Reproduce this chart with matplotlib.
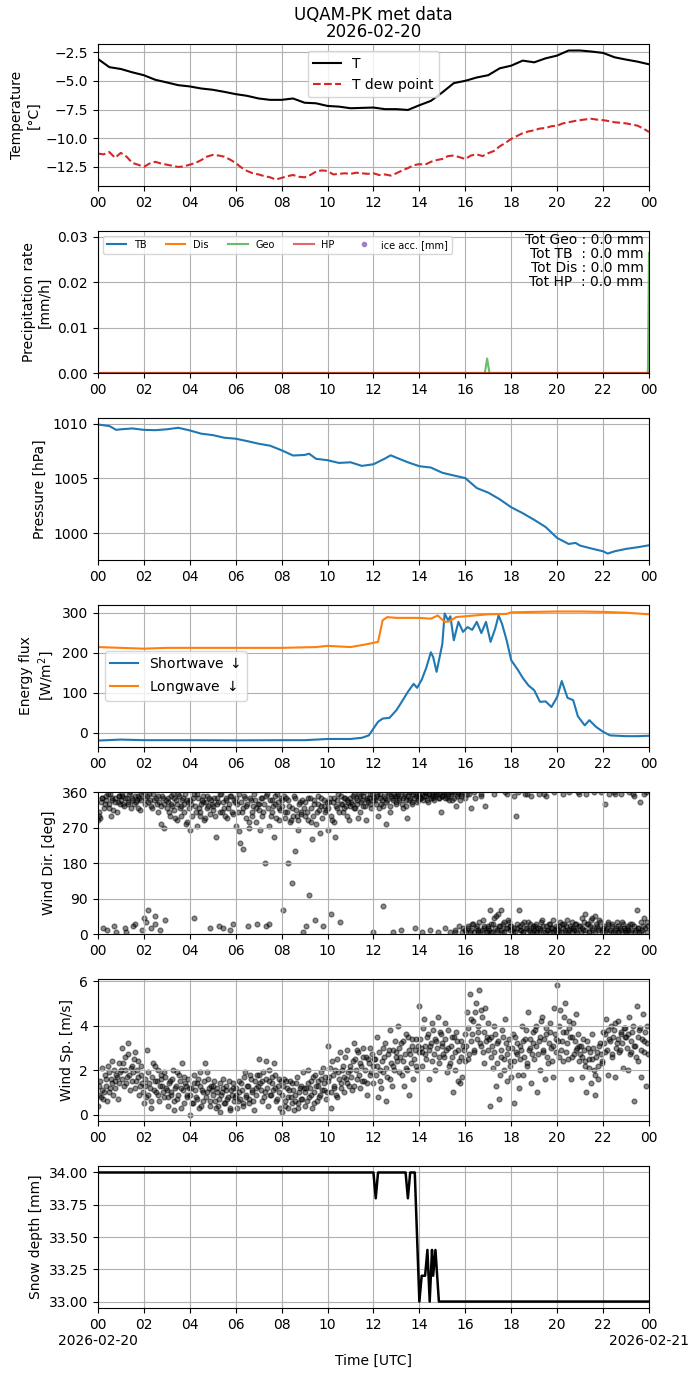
import numpy as np
import pandas as pd
import matplotlib
matplotlib.use("Agg")
import matplotlib.pyplot as plt
import matplotlib.dates as mdates
from matplotlib.ticker import FuncFormatter

DAY = pd.Timestamp("2026-02-20")

# ---------------- data ----------------
temp_hours = [i * 0.5 for i in range(49)]
temp_T = [-3.08, -3.8, -3.96, -4.25, -4.5, -4.9, -5.13, -5.37, -5.48, -5.66,
          -5.77, -5.95, -6.15, -6.3, -6.53, -6.65, -6.65, -6.53, -6.9, -6.95,
          -7.18, -7.24, -7.38, -7.35, -7.32, -7.46, -7.46, -7.53, -7.12, -6.74,
          -6.0, -5.19, -4.99, -4.7, -4.5, -3.9, -3.67, -3.23, -3.38, -3.03,
          -2.79, -2.35, -2.35, -2.44, -2.56, -2.94, -3.14, -3.32, -3.55]

dew_hours = [i * 0.25 for i in range(97)]
dew_T = [-11.33, -11.4, -11.2, -11.7, -11.27, -11.6, -12.15, -12.3, -12.5, -12.2,
         -12.05, -12.2, -12.3, -12.4, -12.5, -12.45, -12.3, -12.15, -11.9, -11.6,
         -11.45, -11.5, -11.6, -11.85, -12.15, -12.55, -12.85, -13.05, -13.15, -13.3,
         -13.4, -13.6, -13.45, -13.3, -13.2, -13.35, -13.4, -13.2, -12.9, -12.8,
         -12.85, -13.15, -13.1, -13.05, -13.1, -13.0, -13.05, -13.1, -13.05, -13.2,
         -13.15, -13.25, -13.05, -12.8, -12.6, -12.35, -12.25, -12.3, -12.05, -11.9,
         -11.8, -11.55, -11.5, -11.65, -11.8, -11.5, -11.4, -11.55, -11.3, -11.1,
         -10.7, -10.4, -10.05, -9.8, -9.55, -9.4, -9.3, -9.15, -9.1, -8.95,
         -8.9, -8.7, -8.6, -8.5, -8.42, -8.35, -8.3, -8.38, -8.42, -8.5,
         -8.6, -8.65, -8.7, -8.8, -8.9, -9.15, -9.45]

precip_hours = [0.0, 16.85, 16.95, 17.05, 23.95, 24.0]
precip_geo = [0.0, 0.0, 0.0032, 0.0, 0.0, 0.0265]
precip_tb = [0.0, 0.0, 0.0, 0.0, 0.0, 0.0]
precip_dis = [0.0, 0.0, 0.0, 0.0, 0.0, 0.0]
precip_hp = [0.0, 0.0, 0.0, 0.0, 0.0, 0.0]
totals_text = "Tot Geo : 0.0 mm\nTot TB  : 0.0 mm\nTot Dis : 0.0 mm\nTot HP  : 0.0 mm"

pres_hours = [0, 0.5, 0.8, 1, 1.5, 2, 2.5, 3, 3.5, 4, 4.5, 5, 5.5, 6, 6.5, 7, 7.5, 8,
              8.5, 9, 9.2, 9.5, 10, 10.5, 11, 11.5, 12, 12.5, 12.75, 13, 13.5, 14,
              14.5, 15, 15.5, 16, 16.5, 17, 17.5, 18, 18.5, 19, 19.5, 20, 20.5,
              20.8, 21, 21.5, 22, 22.2, 22.5, 23, 23.5, 24]
pres_val = [1009.94, 1009.8, 1009.45, 1009.5, 1009.58, 1009.45, 1009.42, 1009.5,
            1009.64, 1009.4, 1009.1, 1008.97, 1008.73, 1008.64, 1008.42, 1008.18,
            1008.0, 1007.58, 1007.1, 1007.15, 1007.27, 1006.8, 1006.67, 1006.42,
            1006.48, 1006.15, 1006.3, 1006.82, 1007.12, 1006.9, 1006.48, 1006.12,
            1006.0, 1005.52, 1005.27, 1005.03, 1004.12, 1003.7, 1003.09, 1002.36,
            1001.82, 1001.21, 1000.55, 999.55, 999.0, 999.1, 998.85, 998.58,
            998.33, 998.12, 998.33, 998.55, 998.7, 998.88]

sw_hours = [0, 1, 2, 4, 6, 8, 9, 10, 11, 11.5, 11.8, 12, 12.2, 12.4, 12.7, 13, 13.2,
            13.5, 13.75, 13.9, 14.1, 14.3, 14.5, 14.6, 14.75, 15, 15.1, 15.25,
            15.35, 15.5, 15.7, 15.9, 16.1, 16.3, 16.5, 16.7, 16.9, 17.1, 17.3,
            17.45, 17.6, 17.8, 18, 18.3, 18.5, 18.75, 19, 19.25, 19.5, 19.75, 20,
            20.2, 20.45, 20.7, 20.9, 21.2, 21.4, 21.7, 22, 22.3, 23, 23.5, 24]
sw_val = [-20, -17.5, -19, -19, -19.5, -19, -19, -16, -16, -13, -7, 10, 27, 35, 37,
          56, 74, 102, 122, 112, 132, 162, 201, 189, 152, 222, 298, 281, 291, 231,
          277, 252, 264, 257, 277, 249, 277, 227, 260, 293, 272, 231, 181, 156,
          137, 118, 106, 77, 78, 64, 89, 129, 87, 81, 41, 18, 31, 14, 2, -7, -9,
          -9, -8]

lw_hours = [0, 1, 2, 3, 6, 8, 9.5, 10, 11, 11.7, 12.2, 12.4, 12.6, 13, 14, 14.5,
            14.8, 15.1, 15.3, 15.6, 16, 17, 17.8, 18, 19, 20, 21, 22, 23, 24]
lw_val = [214, 212, 210, 212, 212, 212, 214, 217, 214, 221, 227, 281, 289, 287, 287,
          285, 293, 277, 278, 289, 291, 296, 297, 301, 302, 303, 303, 302, 300, 296]

# wind observations, set A at minutes 0,4,8,... (15 per hour)
wind_dir = [
    290, 300, 335, 345, 320, 350, 10, 330, 355, 340, 315, 345, 5, 335, 350,
    340, 355, 325, 15, 345, 330, 360, 340, 20, 350, 335, 320, 345, 355, 10,
    40, 330, 350, 60, 340, 325, 355, 25, 345, 310, 335, 280, 350, 330, 35,
    320, 345, 300, 330, 355, 315, 340, 290, 350, 325, 340, 310, 355, 285, 335,
    265, 330, 345, 40, 310, 355, 320, 300, 340, 335, 295, 350, 325, 15, 340,
    315, 345, 245, 330, 20, 355, 310, 335, 300, 345, 320, 10, 350, 305, 340,
    275, 330, 355, 230, 310, 215, 345, 325, 20, 285, 340, 300, 355, 320, 25,
    330, 265, 345, 310, 180, 350, 320, 25, 300, 340, 245, 330, 355, 290, 315,
    340, 60, 310, 345, 180, 325, 290, 130, 350, 210, 300, 265, 335, 310, 5,
    300, 20, 345, 100, 285, 240, 330, 35, 310, 350, 255, 325, 20, 340, 315,
    265, 335, 50, 290, 345, 245, 320, 355, 30, 330, 310, 345, 325, 340, 290,
    345, 330, 355, 320, 340, 295, 350, 335, 325, 360, 290, 340, 345, 330, 355,
    5, 340, 355, 300, 345, 330, 70, 350, 280, 340, 355, 325, 345, 5, 350,
    335, 355, 345, 10, 320, 350, 340, 295, 360, 345, 335, 355, 15, 350, 340,
    355, 345, 5, 350, 360, 340, 355, 10, 350, 345, 360, 355, 5, 345, 310,
    350, 360, 15, 345, 355, 5, 340, 360, 10, 325, 355, 20, 350, 5, 360,
    10, 355, 20, 5, 320, 25, 360, 15, 5, 30, 350, 10, 20, 325, 5,
    15, 60, 5, 25, 355, 45, 10, 20, 60, 5, 30, 360, 15, 35, 10,
    20, 5, 350, 300, 15, 60, 10, 25, 5, 355, 15, 30, 5, 350, 20,
    10, 25, 5, 355, 15, 35, 20, 5, 350, 10, 25, 15, 5, 360, 20,
    15, 5, 30, 25, 355, 10, 20, 5, 360, 15, 30, 10, 25, 5, 355,
    20, 40, 10, 50, 355, 25, 5, 35, 15, 360, 45, 20, 10, 30, 5,
    15, 330, 10, 25, 355, 5, 20, 360, 10, 30, 5, 15, 355, 25, 10,
    5, 20, 360, 10, 25, 350, 5, 60, 15, 335, 5, 20, 40, 360, 30,
]
wind_spd = [
    0.4, 1.3, 0.8, 2.1, 1.0, 1.6, 0.6, 1.9, 1.2, 2.4, 0.9, 1.5, 1.8, 0.7, 1.4,
    2.0, 3.0, 1.3, 2.6, 1.7, 3.2, 1.1, 2.2, 1.9, 2.8, 1.5, 2.4, 0.9, 1.8, 1.4,
    0.5, 1.6, 2.9, 0.9, 1.2, 0.3, 2.3, 1.5, 1.0, 2.0, 0.6, 1.8, 1.3, 0.8, 1.7,
    1.1, 0.4, 1.5, 0.9, 2.0, 0.2, 1.3, 0.7, 1.8, 1.2, 2.3, 0.5, 1.4, 0.9, 1.6,
    0.0, 1.2, 0.5, 1.8, 0.8, 1.4, 0.3, 1.9, 1.1, 0.6, 2.3, 1.0, 1.6, 0.4, 1.3,
    0.9, 1.5, 0.3, 1.2, 0.7, 0.1, 1.0, 1.6, 0.5, 1.3, 0.8, 0.2, 1.1, 1.4, 0.6,
    0.9, 0.3, 1.5, 0.7, 1.1, 0.4, 1.9, 0.8, 1.3, 0.5, 1.6, 1.0, 0.2, 1.2, 1.8,
    2.5, 1.4, 0.6, 1.9, 1.0, 2.4, 0.4, 1.5, 0.9, 1.7, 2.3, 1.2, 0.7, 1.6, 0.3,
    0.1, 1.3, 0.6, 1.5, 0.3, 1.1, 0.8, 1.4, 0.2, 0.9, 1.7, 0.5, 1.2, 0.7, 1.9,
    0.4, 1.2, 2.0, 0.8, 1.5, 0.3, 1.0, 1.8, 0.6, 1.3, 0.9, 1.6, 2.1, 1.1, 0.7,
    3.1, 1.7, 0.3, 2.4, 1.2, 2.0, 0.8, 1.9, 2.8, 1.4, 2.2, 1.0, 1.6, 2.9, 1.3,
    2.0, 1.1, 3.2, 2.5, 1.6, 2.8, 1.2, 2.2, 3.0, 1.5, 2.6, 0.9, 2.3, 1.8, 2.7,
    1.4, 2.5, 3.5, 0.8, 2.0, 1.2, 3.0, 2.6, 0.6, 1.7, 2.9, 3.8, 1.3, 2.2, 3.3,
    2.8, 4.0, 1.9, 3.2, 2.4, 1.3, 3.6, 2.0, 0.9, 2.7, 3.4, 1.6, 2.9, 2.2, 3.1,
    4.9, 3.0, 2.2, 4.3, 2.7, 3.5, 1.6, 3.1, 2.4, 3.8, 2.0, 3.3, 4.4, 2.6, 3.6,
    3.2, 2.6, 4.1, 1.9, 3.0, 2.3, 3.5, 1.0, 2.8, 3.7, 1.5, 2.4, 3.3, 1.7, 2.9,
    3.6, 4.6, 2.5, 5.4, 3.3, 4.2, 2.8, 5.0, 3.7, 5.6, 3.1, 4.4, 2.3, 4.8, 3.5,
    2.9, 0.4, 3.5, 2.1, 4.0, 1.3, 3.2, 0.7, 2.6, 3.8, 2.0, 4.3, 1.5, 3.0, 2.4,
    1.7, 3.6, 0.5, 2.8, 3.2, 1.2, 2.5, 4.0, 1.8, 3.4, 2.2, 4.6, 3.0, 1.4, 3.7,
    2.5, 4.0, 1.0, 3.3, 2.0, 4.4, 2.8, 1.6, 3.6, 2.3, 4.1, 3.0, 1.7, 4.8, 3.4,
    5.8, 2.6, 4.7, 3.3, 2.4, 5.0, 3.7, 2.5, 4.2, 1.6, 3.5, 2.7, 4.5, 3.0, 2.4,
    2.7, 1.7, 3.4, 2.2, 1.0, 3.0, 2.5, 1.4, 3.6, 2.0, 0.9, 2.8, 1.6, 3.2, 2.3,
    3.7, 2.8, 4.3, 1.8, 3.4, 4.0, 2.6, 3.8, 1.7, 3.2, 4.2, 2.9, 3.6, 2.1, 3.9,
    3.5, 2.0, 4.4, 2.8, 3.7, 0.6, 3.1, 4.9, 2.4, 3.9, 1.7, 4.5, 3.3, 1.3, 4.0,
]
# set B at minutes 2,6,10,... (15 per hour)
wind_dir_b = [
    310, 295, 345, 15, 330, 340, 355, 320, 300, 345, 20, 335, 310, 350, 330,
    350, 330, 345, 5, 335, 355, 320, 345, 330, 25, 340, 350, 315, 340, 360,
    345, 30, 335, 355, 15, 320, 340, 45, 330, 350, 10, 325, 345, 270, 340,
    335, 310, 350, 325, 345, 295, 330, 355, 320, 300, 345, 330, 280, 340, 320,
    340, 300, 355, 325, 275, 345, 310, 330, 350, 290, 335, 320, 345, 305, 330,
    325, 300, 345, 335, 310, 355, 15, 320, 340, 295, 330, 350, 310, 25, 335,
    345, 310, 260, 335, 320, 350, 295, 330, 270, 345, 310, 325, 340, 285, 330,
    315, 345, 300, 330, 20, 355, 275, 340, 310, 325, 350, 295, 335, 320, 345,
    325, 350, 295, 310, 340, 285, 320, 300, 345, 315, 290, 330, 305, 340, 320,
    335, 310, 290, 345, 320, 300, 340, 280, 330, 315, 345, 295, 325, 310, 335,
    320, 345, 300, 335, 285, 325, 340, 310, 350, 330, 320, 345, 300, 335, 325,
    335, 350, 320, 345, 330, 355, 310, 340, 350, 325, 345, 335, 355, 320, 340,
    345, 330, 350, 320, 355, 340, 325, 345, 335, 360, 310, 350, 340, 355, 330,
    350, 340, 360, 330, 345, 355, 325, 350, 340, 360, 330, 345, 355, 335, 350,
    345, 355, 340, 360, 350, 335, 355, 345, 360, 340, 350, 355, 345, 360, 350,
    355, 345, 360, 350, 340, 355, 360, 345, 5, 350, 360, 340, 355, 15, 345,
    5, 15, 355, 10, 25, 5, 345, 20, 10, 5, 355, 35, 15, 5, 20,
    10, 25, 5, 40, 15, 5, 50, 20, 10, 25, 5, 15, 355, 30, 20,
    10, 15, 5, 25, 360, 20, 10, 5, 30, 15, 355, 10, 25, 5, 15,
    20, 5, 15, 10, 30, 5, 355, 20, 10, 25, 5, 15, 35, 10, 5,
    10, 20, 5, 15, 25, 5, 35, 10, 20, 5, 15, 25, 10, 360, 20,
    5, 15, 30, 10, 25, 5, 20, 40, 10, 5, 25, 15, 35, 360, 10,
    20, 5, 15, 30, 10, 25, 5, 355, 15, 20, 5, 10, 30, 15, 5,
    15, 10, 25, 5, 355, 20, 10, 15, 5, 30, 10, 355, 15, 5, 20,
]
wind_spd_b = [
    0.9, 1.5, 1.1, 0.7, 1.8, 1.3, 2.2, 1.0, 1.6, 1.4, 2.0, 1.2, 1.7, 2.3, 1.9,
    1.6, 2.3, 2.0, 1.4, 2.7, 1.8, 2.1, 1.5, 2.5, 1.2, 2.0, 1.7, 1.3, 2.2, 1.0,
    1.3, 0.8, 1.9, 1.4, 0.6, 1.7, 1.1, 2.2, 1.5, 0.9, 1.3, 1.6, 1.0, 1.9, 1.2,
    0.8, 1.4, 1.0, 1.6, 0.6, 1.2, 1.9, 0.9, 1.5, 0.3, 1.1, 1.7, 1.3, 0.8, 1.2,
    0.9, 0.5, 1.4, 1.1, 0.7, 1.6, 1.3, 0.4, 1.0, 1.5, 0.8, 1.9, 1.2, 0.6, 1.1,
    1.3, 0.6, 1.0, 0.4, 1.4, 0.9, 1.2, 0.5, 1.1, 0.7, 1.5, 0.3, 0.9, 1.2, 0.8,
    1.2, 0.6, 1.0, 1.4, 0.5, 1.7, 0.9, 1.3, 0.7, 1.8, 1.1, 0.6, 1.5, 0.9, 1.3,
    1.8, 1.1, 1.5, 0.8, 1.6, 1.2, 2.0, 0.9, 1.4, 1.1, 1.8, 0.6, 1.3, 1.0, 1.5,
    0.9, 1.6, 0.4, 1.2, 0.8, 1.5, 0.5, 1.1, 0.6, 1.4, 0.3, 1.0, 1.3, 0.7, 1.2,
    1.0, 0.6, 1.4, 1.2, 0.9, 1.7, 0.5, 1.3, 1.5, 0.8, 1.9, 1.1, 1.4, 1.7, 1.0,
    1.5, 2.1, 1.0, 1.8, 1.3, 0.9, 2.5, 1.6, 1.2, 2.0, 1.7, 2.6, 1.4, 1.9, 2.2,
    1.7, 2.4, 1.3, 2.0, 2.9, 1.8, 2.3, 1.5, 2.6, 2.0, 1.4, 2.5, 3.0, 1.9, 2.2,
    2.5, 1.8, 2.2, 2.8, 1.5, 2.4, 1.9, 3.2, 2.1, 2.7, 1.6, 2.3, 2.9, 2.0, 2.6,
    2.4, 3.0, 2.6, 1.8, 3.3, 2.7, 2.1, 3.5, 2.9, 2.3, 3.1, 2.5, 3.4, 2.0, 2.8,
    3.4, 2.8, 3.9, 3.1, 2.5, 3.6, 2.9, 3.2, 4.1, 2.7, 3.4, 3.0, 2.3, 3.7, 3.1,
    2.7, 3.4, 2.9, 3.8, 2.2, 3.1, 2.6, 3.5, 2.0, 3.3, 2.9, 1.4, 2.6, 3.1, 2.4,
    3.1, 3.9, 2.7, 4.3, 3.6, 2.9, 4.6, 3.4, 4.0, 3.2, 4.7, 2.8, 3.7, 3.3, 4.1,
    3.4, 2.6, 3.1, 2.8, 3.6, 2.3, 3.3, 1.8, 2.9, 3.5, 2.5, 3.2, 2.7, 3.4, 2.2,
    3.0, 2.4, 3.5, 2.7, 1.8, 3.1, 2.9, 3.3, 2.6, 3.8, 2.3, 2.9, 3.4, 2.7, 3.2,
    3.8, 3.1, 2.7, 3.5, 4.2, 2.9, 3.4, 3.9, 2.6, 3.2, 3.7, 2.4, 3.1, 3.6, 2.8,
    3.3, 4.0, 2.9, 3.7, 4.4, 2.8, 3.2, 3.9, 3.5, 2.6, 4.1, 3.3, 2.9, 3.6, 3.1,
    3.1, 2.6, 2.9, 2.4, 3.3, 2.1, 2.8, 2.5, 3.0, 1.8, 2.6, 2.2, 3.1, 2.7, 2.4,
    3.2, 3.6, 2.9, 3.8, 3.3, 2.7, 3.5, 4.1, 3.0, 3.4, 2.8, 3.7, 3.2, 3.9, 3.5,
    3.0, 3.6, 2.7, 3.3, 4.0, 3.1, 2.6, 3.5, 3.8, 2.9, 3.4, 2.8, 3.7, 3.2, 2.7,
]
wind_hours = [i * 4 / 60 for i in range(len(wind_spd))]
wind_hours_b = [(i * 4 + 2) / 60 for i in range(len(wind_spd_b))]

snow_hours = [0, 12.0, 12.1, 12.2, 13.4, 13.5, 13.6, 13.8, 14.0, 14.1, 14.25, 14.35,
              14.45, 14.55, 14.6, 14.7, 14.85, 24]
snow_val = [34.0, 34.0, 33.8, 34.0, 34.0, 33.8, 34.0, 34.0, 33.0, 33.2, 33.2, 33.4,
            33.0, 33.4, 33.2, 33.4, 33.0, 33.0]


def to_time(hours):
    return DAY + pd.to_timedelta(np.asarray(hours, dtype=float), unit="h")


# ---------------- figure ----------------
fig, axes = plt.subplots(7, 1, figsize=(6.99, 13.77), dpi=100)
fig.subplots_adjust(left=0.140, right=0.9285, top=0.968, bottom=0.0501, hspace=0.317)

# Temperature
ax = axes[0]
ax.plot(to_time(temp_hours), temp_T, color="black", lw=1.5, label="T")
ax.plot(to_time(dew_hours), dew_T, color="#d62728", lw=1.5, ls="--", label="T dew point")
ax.set_ylabel("Temperature\n[°C]")
ax.legend(loc="upper center")
ax.set_title("UQAM-PK met data\n2026-02-20", linespacing=0.95, pad=5)

# Precipitation
ax = axes[1]
pt = to_time(precip_hours)
ax.plot(pt, precip_tb, color="C0", lw=1.5, label="TB")
ax.plot(pt, precip_dis, color="C1", lw=1.5, label="Dis")
ax.plot(pt, precip_geo, color="C2", lw=1.5, alpha=0.7, label="Geo")
ax.plot(pt, precip_hp, color="C3", lw=1.5, alpha=0.7, label="HP")
ax.plot([], [], ls="none", marker="o", ms=3, color="C4", alpha=0.8, label="ice acc. [mm]")
ax.set_ylim(0, 0.0313)
ax.set_ylabel("Precipitation rate\n[mm/h]")
ax.legend(loc="upper left", ncol=5, fontsize=7)
ax.text(0.99, 0.985, totals_text, transform=ax.transAxes, ha="right", va="top",
        fontsize=10, linespacing=1.0)

# Pressure
ax = axes[2]
ax.plot(to_time(pres_hours), pres_val, color="C0", lw=1.5)
ax.set_ylabel("Pressure [hPa]")

# Energy
ax = axes[3]
ax.plot(to_time(sw_hours), sw_val, color="C0", lw=1.5, label="Shortwave $\\downarrow$")
ax.plot(to_time(lw_hours), lw_val, color="C1", lw=1.5, label="Longwave $\\downarrow$")
ax.set_ylabel("Energy flux\n[W/m$^2$]")
ax.legend(loc="center left")

# Wind dir
ax = axes[4]
ax.scatter(to_time(wind_hours), wind_dir, s=12, color="black", alpha=0.45)
ax.scatter(to_time(wind_hours_b), wind_dir_b, s=12, color="black", alpha=0.45)
ax.set_ylim(0, 360)
ax.set_yticks([0, 90, 180, 270, 360])
ax.set_ylabel("Wind Dir. [deg]")

# Wind speed
ax = axes[5]
ax.scatter(to_time(wind_hours), wind_spd, s=12, color="black", alpha=0.45)
ax.scatter(to_time(wind_hours_b), wind_spd_b, s=12, color="black", alpha=0.45)
ax.set_ylabel("Wind Sp. [m/s]")

# Snow depth
ax = axes[6]
ax.plot(to_time(snow_hours), snow_val, color="black", lw=1.8)
ax.set_ylabel("Snow depth [mm]")
ax.set_xlabel("Time [UTC]")

t0 = DAY
t1 = DAY + pd.Timedelta(days=1)
for i, ax in enumerate(axes):
    ax.set_xlim(t0, t1)
    ax.xaxis.set_major_locator(mdates.HourLocator(byhour=range(0, 24, 2)))
    ax.xaxis.set_major_formatter(mdates.DateFormatter("%H"))
    ax.grid(True)


def last_fmt(x, pos):
    d = mdates.num2date(x)
    s = d.strftime("%H")
    if d.hour == 0:
        s = s + "\n" + d.strftime("%Y-%m-%d")
    return s


axes[-1].xaxis.set_major_formatter(FuncFormatter(last_fmt))

fig.savefig("out.png", dpi=100)
